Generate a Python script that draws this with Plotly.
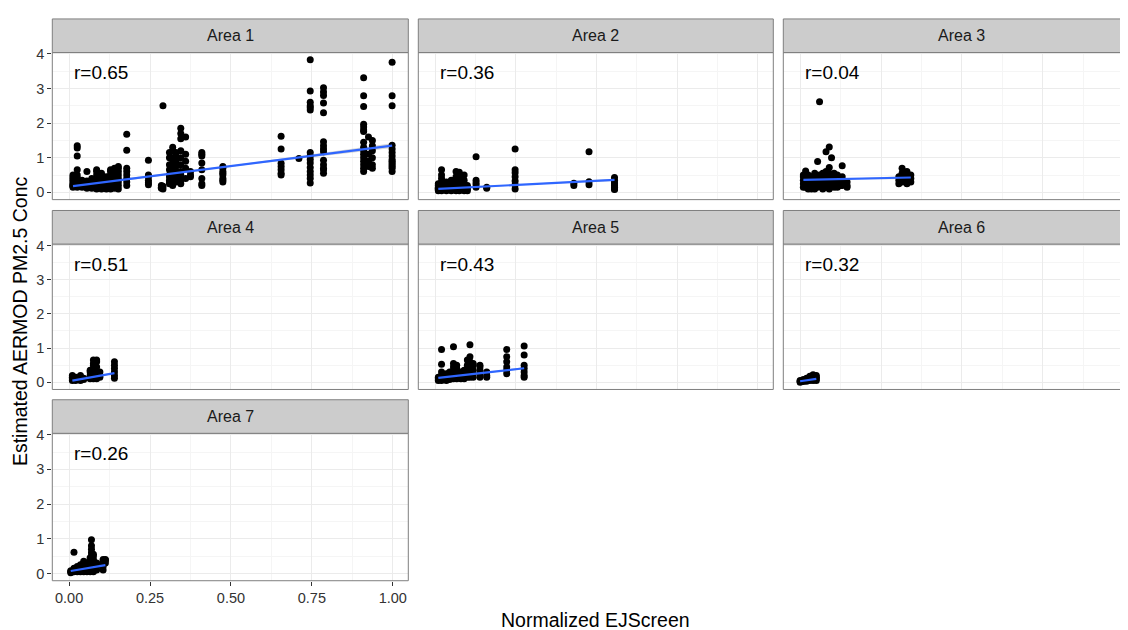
import plotly.graph_objects as go

# ---------------- data ----------------
area_names = ["Area 1", "Area 2", "Area 3", "Area 4", "Area 5", "Area 6", "Area 7"]
r_labels = ["r=0.65", "r=0.36", "r=0.04", "r=0.51", "r=0.43", "r=0.32", "r=0.26"]

a1_x = [0.012, 0.025, 0.04, 0.055, 0.07, 0.085, 0.1, 0.115, 0.128, 0.14, 0.152, 0.178,
        0.245, 0.285, 0.29, 0.31, 0.32, 0.33, 0.345, 0.36, 0.375, 0.41, 0.475,
        0.655, 0.71, 0.745, 0.786, 0.91, 0.925, 0.937, 0.998]
a1_y = [[0.15, 0.2, 0.25, 0.3, 0.35, 0.4, 0.45, 0.5, 0.18, 0.22],
        [1.35, 1.28, 1.05, 0.65, 0.5, 0.42, 0.35, 0.28, 0.2, 0.15],
        [0.15, 0.2, 0.25, 0.3, 0.35, 0.18],
        [0.12, 0.17, 0.22, 0.28, 0.33, 0.6],
        [0.12, 0.18, 0.25, 0.3, 0.4],
        [0.1, 0.15, 0.2, 0.3, 0.4, 0.5, 0.6, 0.65],
        [0.1, 0.15, 0.2, 0.25, 0.35, 0.45, 0.55],
        [0.1, 0.15, 0.25, 0.35, 0.45],
        [0.1, 0.15, 0.2, 0.3, 0.4, 0.5, 0.6, 0.65],
        [0.12, 0.2, 0.3, 0.45, 0.55, 0.7],
        [0.1, 0.2, 0.3, 0.4, 0.5, 0.6, 0.75, 0.7],
        [1.68, 1.22, 0.7, 0.6, 0.5, 0.4, 0.3, 0.2],
        [0.93, 0.5, 0.45, 0.35, 0.28, 0.22],
        [0.2, 0.15, 0.12],
        [2.5, 0.1, 0.18],
        [0.25, 0.35, 0.5, 0.65, 0.8, 1.0, 1.15, 0.3, 0.45],
        [0.2, 0.3, 0.4, 0.55, 0.7, 0.85, 1.0, 1.2, 1.3, 0.6],
        [0.3, 0.4, 0.5, 0.6, 0.75, 0.9, 1.05, 1.15],
        [1.85, 1.7, 1.55, 1.2, 1.0, 0.8, 0.6, 0.5, 0.25, 0.35],
        [1.6, 1.1, 0.9, 0.7, 0.4],
        [0.45, 0.5, 0.6],
        [1.15, 1.05, 0.85, 0.65, 0.4, 0.25, 0.2, 1.1],
        [0.3, 0.4, 0.5, 0.6, 0.7, 0.75, 0.35, 0.55],
        [1.62, 1.25, 0.84, 0.75, 0.65, 0.55, 0.5],
        [0.98],
        [3.83, 2.93, 2.6, 2.5, 2.45, 2.38, 1.15, 1.05, 0.95, 0.85, 0.72, 0.6, 0.5, 0.4, 0.27],
        [3.02, 2.9, 2.8, 2.58, 2.3, 1.46, 1.35, 1.25, 1.17, 0.93, 0.8, 0.7, 0.65, 0.55],
        [3.31, 2.79, 2.48, 1.97, 1.89, 1.8, 1.76, 1.45, 1.3, 1.2, 1.1, 1.0, 0.9, 0.8, 0.7, 0.6],
        [1.6, 1.1, 0.9, 0.75],
        [1.5, 1.35, 1.2, 1.0, 0.8, 0.7],
        [3.76, 2.79, 2.5, 1.36, 1.25, 1.15, 1.05, 0.95, 0.9, 0.85, 0.8, 0.75, 0.7, 0.6]]

a2_x = [0.01, 0.02, 0.035, 0.05, 0.065, 0.075, 0.09, 0.1, 0.127, 0.16, 0.248, 0.43, 0.477, 0.556]
a2_y = [[0.05, 0.1, 0.15, 0.2, 0.25, 0.08, 0.12],
        [0.05, 0.1, 0.15, 0.2, 0.3, 0.4, 0.65, 0.5],
        [0.05, 0.1, 0.15, 0.2, 0.25, 0.3],
        [0.05, 0.1, 0.15, 0.2, 0.3, 0.35],
        [0.05, 0.1, 0.15, 0.2, 0.3, 0.45, 0.6],
        [0.05, 0.1, 0.2, 0.3, 0.4, 0.5, 0.58],
        [0.05, 0.1, 0.15, 0.25, 0.35, 0.5],
        [0.05, 0.1, 0.15, 0.2],
        [1.03, 0.35, 0.28, 0.22, 0.15],
        [0.15, 0.12],
        [1.25, 0.65, 0.57, 0.45, 0.33, 0.22, 0.1],
        [0.26, 0.2],
        [1.17, 0.31, 0.22],
        [0.43, 0.35, 0.3, 0.25, 0.2, 0.15, 0.1, 0.08]]

a3_x = [0.01, 0.017, 0.025, 0.035, 0.045, 0.054, 0.06, 0.07, 0.08, 0.09, 0.097,
        0.105, 0.115, 0.125, 0.13, 0.145, 0.305, 0.315, 0.33, 0.342]
a3_y = [[0.15, 0.25, 0.35, 0.45, 0.5],
        [0.62, 0.4, 0.3, 0.2, 0.15],
        [0.1, 0.15, 0.2, 0.3, 0.5],
        [0.1, 0.15, 0.25, 0.35, 0.45],
        [0.1, 0.2, 0.3, 0.4, 0.55],
        [0.89, 0.15, 0.25, 0.35],
        [2.62, 0.2, 0.3, 0.5],
        [0.1, 0.15, 0.2, 0.3, 0.45, 0.55],
        [1.17, 0.15, 0.25, 0.4, 0.6],
        [1.31, 0.72, 0.1, 0.2, 0.3, 0.45, 0.55],
        [1.0, 0.5, 0.3, 0.2],
        [0.15, 0.25, 0.35, 0.55],
        [0.15, 0.2, 0.3, 0.4, 0.5],
        [0.2, 0.3, 0.4],
        [0.77, 0.45, 0.3, 0.2],
        [0.15, 0.2, 0.3],
        [0.25, 0.35, 0.45],
        [0.3, 0.4, 0.55, 0.7],
        [0.25, 0.35, 0.45, 0.6],
        [0.3, 0.4, 0.5]]

a4_x = [0.01, 0.02, 0.035, 0.045, 0.065, 0.075, 0.085, 0.095, 0.14]
a4_y = [[0.05, 0.1, 0.15, 0.2],
        [0.05, 0.1, 0.15],
        [0.05, 0.1, 0.15, 0.2],
        [0.08, 0.12],
        [0.1, 0.15, 0.2, 0.3, 0.35],
        [0.1, 0.15, 0.2, 0.3, 0.4, 0.5, 0.55, 0.65],
        [0.1, 0.2, 0.3, 0.45, 0.6, 0.65],
        [0.15, 0.2, 0.3],
        [0.12, 0.2, 0.3, 0.4, 0.5, 0.6]]

a5_x = [0.01, 0.02, 0.035, 0.045, 0.057, 0.067, 0.08, 0.09, 0.1, 0.108, 0.118,
        0.139, 0.16, 0.222, 0.276]
a5_y = [[0.05, 0.1, 0.15],
        [0.96, 0.53, 0.05, 0.1, 0.15, 0.2, 0.3],
        [0.05, 0.1, 0.15, 0.2, 0.25],
        [0.08, 0.15, 0.2, 0.3],
        [1.04, 0.55, 0.45, 0.35, 0.25, 0.15, 0.1],
        [0.1, 0.2, 0.3, 0.4, 0.5],
        [0.1, 0.15, 0.2, 0.3],
        [0.1, 0.2, 0.3, 0.35],
        [0.15, 0.25, 0.35, 0.5, 0.65],
        [1.1, 0.75, 0.6, 0.45, 0.3, 0.2, 0.15],
        [0.15, 0.25, 0.35, 0.5, 0.55],
        [0.15, 0.25, 0.35, 0.45, 0.5],
        [0.15, 0.2, 0.3],
        [0.96, 0.75, 0.6, 0.45, 0.35, 0.25],
        [1.06, 0.8, 0.5, 0.4, 0.3, 0.2, 0.15]]

a6_x = [0.0, 0.01, 0.02, 0.03, 0.04, 0.05]
a6_y = [[0.0, 0.03, 0.05],
        [0.02, 0.05, 0.08],
        [0.03, 0.06, 0.1, 0.12],
        [0.05, 0.1, 0.15, 0.18],
        [0.05, 0.1, 0.15, 0.2, 0.22],
        [0.05, 0.1, 0.15, 0.2]]

a7_x = [0.005, 0.015, 0.025, 0.035, 0.045, 0.055, 0.065, 0.069, 0.075, 0.085, 0.105, 0.112]
a7_y = [[0.02, 0.05, 0.08],
        [0.61, 0.05, 0.1, 0.15],
        [0.05, 0.1, 0.15, 0.2],
        [0.05, 0.1, 0.15, 0.25],
        [0.05, 0.1, 0.2, 0.3, 0.35],
        [0.05, 0.1, 0.15, 0.25, 0.3],
        [0.05, 0.1, 0.2, 0.3, 0.4, 0.45],
        [0.97, 0.8, 0.7, 0.6, 0.5],
        [0.05, 0.1, 0.2, 0.3, 0.4, 0.5, 0.55],
        [0.1, 0.2, 0.3],
        [0.1, 0.2, 0.3, 0.35, 0.4],
        [0.3, 0.4, 0.38]]

# linear-fit lines (start/end) and confidence half-widths
fit_x = [[0.012, 0.998], [0.01, 0.556], [0.01, 0.342], [0.01, 0.14],
         [0.01, 0.276], [0.0, 0.05], [0.005, 0.112]]
fit_y = [[0.18, 1.35], [0.1, 0.36], [0.36, 0.43], [0.05, 0.27],
         [0.13, 0.41], [0.03, 0.1], [0.07, 0.24]]
fit_se = [[0.04, 0.02, 0.07], [0.02, 0.01, 0.03], [0.03, 0.015, 0.05], [0.02, 0.01, 0.03],
          [0.02, 0.01, 0.03], [0.01, 0.005, 0.02], [0.02, 0.01, 0.03]]

y_ticks = [0, 1, 2, 3, 4]
x_ticks = [0.0, 0.25, 0.5, 0.75, 1.0]
x_tick_text = ["0.00", "0.25", "0.50", "0.75", "1.00"]

# ---------------- layout geometry ----------------
W, H = 1128, 630
OFF = 8.0  # page body margin; target positions below are page pixels
cols_px = [(52.3, 408.3), (418.3, 773.3), (783.3, 1139.3)]
rows_px = [(46.0, 195.0), (240.0, 387.3), (431.7, 581.0)]
strip_h = 34.0
x_rng = [-0.052, 1.048]
y_rng = [-0.21, 4.04]
FONT = "Liberation Sans, Arial, sans-serif"


def fx_(p):
    return (p - OFF) / W


def fy_(p):
    return 1 - (p - OFF) / H


all_x = [a1_x, a2_x, a3_x, a4_x, a5_x, a6_x, a7_x]
all_y = [a1_y, a2_y, a3_y, a4_y, a5_y, a6_y, a7_y]

fig = go.Figure()
shapes = []
annotations = []
layout_axes = {}

for i in range(7):
    r, c = divmod(i, 3)
    x0p, x1p = cols_px[c]
    y0p, y1p = rows_px[r]
    x1clip = min(x1p, W + OFF)
    xr = list(x_rng)
    if x1clip < x1p:
        xr[1] = x_rng[0] + (x_rng[1] - x_rng[0]) * (x1clip - x0p) / (x1p - x0p)
    n = i + 1
    xa = "xaxis" if n == 1 else f"xaxis{n}"
    ya = "yaxis" if n == 1 else f"yaxis{n}"
    xref = "x" if n == 1 else f"x{n}"
    yref = "y" if n == 1 else f"y{n}"
    left_col = (c == 0)
    bottom = (i == 6)
    layout_axes[xa] = dict(
        domain=[fx_(x0p), fx_(x1clip)], range=xr, anchor=yref,
        tickvals=x_ticks, ticktext=x_tick_text,
        showgrid=True, gridcolor="#EBEBEB", gridwidth=1,
        minor=dict(tickvals=[0.125, 0.375, 0.625, 0.875], showgrid=True,
                   gridcolor="#F5F5F5", gridwidth=1, ticks=""),
        zeroline=False, showline=False,
        ticks="outside" if bottom else "", ticklen=4, tickcolor="#333333",
        showticklabels=bottom,
        tickfont=dict(family=FONT, size=14.5, color="#333333"),
        fixedrange=True)
    layout_axes[ya] = dict(
        domain=[fy_(y1p), fy_(y0p)], range=y_rng, anchor=xref,
        tickvals=y_ticks,
        showgrid=True, gridcolor="#EBEBEB", gridwidth=1,
        minor=dict(tickvals=[0.5, 1.5, 2.5, 3.5], showgrid=True,
                   gridcolor="#F5F5F5", gridwidth=1, ticks=""),
        zeroline=False, showline=False,
        ticks="outside" if left_col else "", ticklen=4, tickcolor="#333333",
        showticklabels=left_col,
        tickfont=dict(family=FONT, size=14.5, color="#333333"),
        fixedrange=True)

    # points
    px_, py_ = [], []
    for xv, ys in zip(all_x[i], all_y[i]):
        for yv in ys:
            px_.append(xv)
            py_.append(yv)

    # confidence band
    fx, fy, se = fit_x[i], fit_y[i], fit_se[i]
    xm = (fx[0] + fx[1]) / 2
    ym = (fy[0] + fy[1]) / 2
    bx = [fx[0], xm, fx[1]]
    by = [fy[0], ym, fy[1]]
    fig.add_trace(go.Scatter(
        x=bx + bx[::-1],
        y=[b + s for b, s in zip(by, se)] + [b - s for b, s in zip(by[::-1], se[::-1])],
        fill="toself", fillcolor="rgba(153,153,153,0.4)", line=dict(width=0),
        mode="lines", xaxis=xref, yaxis=yref, hoverinfo="skip", showlegend=False))
    fig.add_trace(go.Scatter(
        x=px_, y=py_, mode="markers", xaxis=xref, yaxis=yref,
        marker=dict(color="black", size=7, line=dict(width=0)), showlegend=False))
    fig.add_trace(go.Scatter(
        x=fx, y=fy, mode="lines", xaxis=xref, yaxis=yref,
        line=dict(color="#2F66FF", width=2.2), showlegend=False))

    # panel border
    shapes.append(dict(type="rect", xref="paper", yref="paper",
                       x0=fx_(x0p), x1=fx_(x1p), y0=fy_(y1p), y1=fy_(y0p),
                       line=dict(color="#7F7F7F", width=1), fillcolor="rgba(0,0,0,0)",
                       layer="above"))
    # strip
    shapes.append(dict(type="rect", xref="paper", yref="paper",
                       x0=fx_(x0p), x1=fx_(x1p), y0=fy_(y0p), y1=fy_(y0p - strip_h),
                       line=dict(color="#7F7F7F", width=1), fillcolor="#CCCCCC",
                       layer="above"))
    annotations.append(dict(text=area_names[i], xref="paper", yref="paper",
                            x=fx_((x0p + x1p) / 2), y=fy_(y0p - strip_h / 2),
                            showarrow=False, xanchor="center", yanchor="middle",
                            font=dict(family=FONT, size=16, color="#1A1A1A")))
    annotations.append(dict(text=r_labels[i], xref=xref, yref=yref, x=0.1, y=3.45,
                            showarrow=False, xanchor="center", yanchor="middle",
                            font=dict(family=FONT, size=19, color="black")))

annotations.append(dict(text="Normalized EJScreen", xref="paper", yref="paper",
                        x=fx_((52.3 + 1139.3) / 2), y=fy_(621), showarrow=False,
                        xanchor="center", yanchor="middle",
                        font=dict(family=FONT, size=19.5, color="black")))
annotations.append(dict(text="Estimated AERMOD PM2.5 Conc", xref="paper", yref="paper",
                        x=fx_(20), y=fy_(318), showarrow=False, textangle=-90,
                        xanchor="center", yanchor="middle",
                        font=dict(family=FONT, size=19.5, color="black")))

fig.update_layout(width=W, height=H, margin=dict(l=0, r=0, t=0, b=0),
                  paper_bgcolor="white", plot_bgcolor="white",
                  shapes=shapes, annotations=annotations, showlegend=False,
                  **layout_axes)

fig.write_html("out.html")
